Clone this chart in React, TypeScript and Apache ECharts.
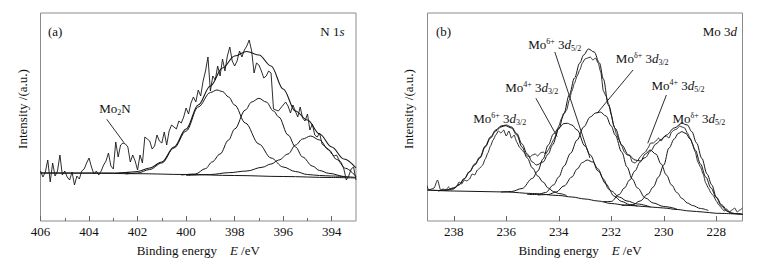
import React, { useEffect, useRef } from 'react';
import * as echarts from 'echarts';

const FONT = 'Liberation Serif, serif';
const INK = '#161616';
const FRAME = '#8c8c8c';

// ---------- (a) N 1s : [binding energy eV, intensity a.u.] ----------
const n1sRaw: [number, number][] = [
  [406.0, 50], [405.9, 44], [405.8, 49], [405.7, 61], [405.6, 39], [405.5, 58], [405.4, 45], [405.3, 50],
  [405.2, 66], [405.1, 46], [405.0, 50], [404.9, 44], [404.8, 41], [404.7, 49], [404.6, 36], [404.5, 45],
  [404.4, 42], [404.3, 50], [404.2, 52], [404.1, 58], [404.0, 63], [403.9, 54], [403.8, 47], [403.7, 50],
  [403.6, 46], [403.5, 50], [403.4, 56], [403.3, 60], [403.2, 68], [403.1, 55], [403.0, 52], [402.9, 79],
  [402.8, 64], [402.7, 76], [402.6, 78], [402.5, 77], [402.4, 74], [402.3, 59], [402.2, 66], [402.1, 60],
  [402.0, 51], [401.9, 66], [401.8, 58], [401.7, 84], [401.6, 82], [401.5, 80], [401.4, 72], [401.3, 75],
  [401.2, 86], [401.1, 80], [401.0, 78], [400.9, 89], [400.8, 76], [400.7, 90], [400.6, 96], [400.5, 94],
  [400.4, 92], [400.3, 100], [400.2, 98], [400.1, 104], [400.0, 113], [399.9, 107], [399.8, 118], [399.7, 124],
  [399.6, 119], [399.5, 131], [399.4, 125], [399.3, 140], [399.2, 150], [399.1, 164], [399.0, 130], [398.9, 145],
  [398.8, 141], [398.7, 155], [398.6, 145], [398.5, 162], [398.4, 150], [398.3, 165], [398.2, 174], [398.1, 160],
  [398.0, 155], [397.9, 160], [397.8, 170], [397.7, 164], [397.6, 171], [397.5, 175], [397.4, 181], [397.3, 170],
  [397.2, 148], [397.1, 158], [397.0, 156], [396.9, 150], [396.8, 143], [396.7, 145], [396.6, 150], [396.5, 148],
  [396.4, 112], [396.3, 111], [396.2, 110], [396.1, 113], [396.0, 116], [395.9, 119], [395.8, 115], [395.7, 108],
  [395.6, 116], [395.5, 110], [395.4, 104], [395.3, 114], [395.2, 103], [395.1, 100], [395.0, 107], [394.9, 91],
  [394.8, 97], [394.7, 86], [394.6, 84], [394.5, 88], [394.4, 77], [394.3, 75], [394.2, 73], [394.1, 71],
  [394.0, 67], [393.9, 65], [393.8, 66], [393.7, 61], [393.6, 58], [393.5, 52], [393.4, 41], [393.3, 45],
  [393.2, 52], [393.1, 54], [393.0, 41],
];
const n1sEnvelope: [number, number][] = [
  [406, 48], [404, 48], [403, 48], [402.5, 48.5], [402, 49.5], [401.5, 53], [401, 59], [400.5, 74],
  [400, 92], [399.5, 116], [399, 135], [398.5, 153], [398, 165], [397.5, 169.5], [397, 166], [396.5, 155],
  [396, 132], [395.5, 110], [395, 101], [394.5, 87], [394, 74], [393.5, 62], [393, 53],
];
const n1sPeak398: [number, number][] = [
  [402.5, 47], [402, 48], [401.5, 51.5], [401, 58], [400.5, 73], [400, 90], [399.5, 114], [399, 128.5],
  [398.73, 131], [398.5, 129.5], [398.25, 124], [398, 116], [397.56, 98], [397, 77], [396.5, 63], [396, 54],
  [395.5, 49.5], [395, 46.5], [394.5, 45.5], [394, 45], [393.5, 44.5],
];
const n1sPeak397: [number, number][] = [
  [400.2, 46], [399.62, 47], [399.2, 52.4], [398.93, 59], [398.6, 67], [398.25, 81], [398, 92], [397.56, 111],
  [397.3, 119], [397, 122.7], [396.7, 119], [396.4, 110], [396.18, 104], [395.8, 86], [395.49, 74], [395.2, 64],
  [394.8, 55], [394.5, 50.5], [394.12, 47.7], [393.43, 44.3], [393, 43.5],
];
const n1sPeak395: [number, number][] = [
  [400, 45.5], [399, 46.5], [398.25, 48.3], [397.5, 50], [396.87, 53.7], [396.5, 57], [396.18, 61], [395.8, 67],
  [395.49, 76], [395.2, 82], [394.87, 85], [394.5, 81], [394.12, 71], [393.8, 61.6], [393.43, 52.7], [393, 44.3],
];
const n1sBackground: [number, number][] = [
  [406, 48], [404, 47.8], [402, 47.3], [400, 46.5], [398, 45.5], [396, 44.5], [394, 43.5], [393, 43],
];
const n1sMajorTicks = [394, 396, 398, 400, 402, 404, 406];
const n1sMinorTicks = [395, 397, 399, 401, 403, 405];

// ---------- (b) Mo 3d ----------
const moRaw: [number, number][] = [
  [239.05, 37], [238.95, 31], [238.85, 32], [238.75, 33], [238.62, 41], [238.5, 31], [238.4, 32], [238.3, 31],
  [238.2, 34], [238.1, 31], [238.0, 32], [237.9, 34], [237.8, 39], [237.7, 37], [237.6, 41], [237.5, 40],
  [237.4, 42], [237.3, 47], [237.2, 46], [237.1, 51], [237.0, 53], [236.9, 56], [236.8, 62], [236.7, 68],
  [236.6, 75], [236.5, 81], [236.4, 86], [236.3, 90], [236.2, 88], [236.1, 91], [236.0, 85], [235.9, 90],
  [235.8, 83], [235.7, 86], [235.6, 79], [235.5, 74], [235.4, 71], [235.3, 68], [235.2, 65], [235.1, 64],
  [235.0, 66], [234.9, 67], [234.8, 65], [234.7, 68], [234.6, 69], [234.5, 67], [234.4, 71], [234.3, 76],
  [234.2, 81], [234.1, 86], [234.0, 95], [233.9, 102], [233.8, 107], [233.7, 111], [233.6, 121], [233.5, 130],
  [233.4, 138], [233.3, 145], [233.2, 151], [233.1, 158], [233.0, 162], [232.9, 163], [232.8, 164], [232.7, 161],
  [232.6, 163], [232.5, 158], [232.4, 149], [232.3, 130], [232.2, 125], [232.1, 117], [232.0, 106], [231.9, 95],
  [231.8, 87], [231.7, 81], [231.6, 75], [231.5, 69], [231.4, 66], [231.3, 66], [231.2, 59], [231.1, 58],
  [231.0, 60], [230.9, 64], [230.8, 67], [230.7, 69], [230.6, 73], [230.5, 78], [230.4, 78], [230.3, 80],
  [230.2, 83], [230.1, 80], [230.0, 84], [229.9, 85], [229.8, 83], [229.7, 89], [229.6, 91], [229.5, 92],
  [229.4, 95], [229.3, 94], [229.2, 93], [229.1, 88], [229.0, 83], [228.9, 77], [228.8, 69], [228.7, 59],
  [228.6, 54], [228.5, 47], [228.4, 38], [228.3, 33], [228.2, 28], [228.1, 25], [228.0, 20], [227.9, 16],
  [227.8, 13], [227.7, 10], [227.6, 12], [227.5, 9], [227.4, 11], [227.3, 13], [227.2, 9], [227.1, 11],
  [227.0, 13],
];
const moEnvelope: [number, number][] = [
  [239, 31], [238.5, 30.5], [238.2, 31], [238, 33], [237.8, 36.5], [237.6, 42.5], [237.4, 49.5], [237.2, 57],
  [237, 64], [236.8, 75], [236.6, 84], [236.4, 91], [236.2, 95], [236, 96], [235.8, 94], [235.6, 87.5],
  [235.4, 77], [235.2, 67], [235, 59], [234.85, 56], [234.6, 59], [234.4, 67], [234.24, 76], [234, 92],
  [233.8, 108], [233.6, 126], [233.4, 143], [233.2, 158], [233.05, 166], [232.87, 172], [232.65, 169], [232.45, 158],
  [232.3, 142], [232.11, 116], [231.85, 92.7], [231.6, 76], [231.34, 66], [231.09, 61], [230.9, 60], [230.7, 63.5],
  [230.5, 70], [230.3, 77], [230.1, 81.5], [229.9, 86], [229.6, 93], [229.31, 97.7], [229.1, 96], [228.93, 89.3],
  [228.75, 78], [228.55, 62.7], [228.35, 47], [228.17, 36], [228, 24], [227.79, 16], [227.54, 9.3], [227.3, 7.5],
  [227, 6.7],
];
const moPeak6Plus32: [number, number][] = [
  [238.6, 30], [238.3, 31], [238, 33], [237.8, 36], [237.6, 42], [237.4, 49], [237.2, 56], [237, 63],
  [236.8, 74], [236.6, 83], [236.4, 90], [236.2, 94], [236.04, 95.3], [235.8, 93], [235.6, 86], [235.4, 74],
  [235.2, 63], [235, 53], [234.8, 45], [234.6, 39], [234.4, 33], [234.2, 29.5], [234, 27.5], [233.7, 25.5],
];
const moPeak4Plus32: [number, number][] = [
  [236.2, 29], [235.8, 29.5], [235.4, 32.5], [235, 42.7], [234.8, 50], [234.6, 62], [234.4, 76], [234.2, 87],
  [234, 93], [233.8, 97.5], [233.67, 97.7], [233.5, 96], [233.3, 91], [233, 75], [232.8, 66], [232.5, 50],
  [232.2, 37], [232, 30], [231.7, 24], [231.4, 20], [231, 17], [230.5, 14],
];
const moPeak6Plus52: [number, number][] = [
  [234.8, 26], [234.4, 26.5], [234.1, 29], [233.8, 35], [233.5, 44], [233.3, 52], [233.1, 58.5], [232.92, 61],
  [232.7, 59], [232.5, 52], [232.3, 42], [232.1, 32], [231.9, 25], [231.6, 19.5], [231.3, 16.5], [231, 15],
];
const moPeakDelta32: [number, number][] = [
  [235.2, 26.5], [234.8, 26.5], [234.5, 28.5], [234.2, 36], [234, 44], [233.8, 55], [233.55, 67.7], [233.3, 81],
  [233.05, 94], [232.8, 104], [232.6, 108], [232.42, 109], [232.2, 105], [232, 95], [231.85, 86], [231.6, 69],
  [231.4, 54], [231.2, 42], [231, 33], [230.7, 23], [230.4, 18], [230, 14.5], [229.5, 12],
];
const moPeak4Plus52: [number, number][] = [
  [232.3, 19.5], [232, 19.5], [231.7, 26.5], [231.5, 33], [231.3, 41], [231.1, 50], [230.9, 59], [230.7, 67],
  [230.52, 71], [230.3, 67], [230.1, 57], [229.9, 46], [229.7, 36], [229.5, 28.5], [229.3, 22.5], [229.1, 18],
  [228.9, 15.5], [228.6, 12.5], [228.3, 10.5],
];
const moPeakDelta52: [number, number][] = [
  [231.6, 15.5], [231.2, 16], [230.9, 20], [230.6, 27], [230.4, 34], [230.2, 44], [230, 56], [229.8, 73],
  [229.6, 82], [229.45, 87.5], [229.31, 89.3], [229.15, 87.5], [229, 82], [228.8, 71], [228.6, 57], [228.4, 44],
  [228.2, 33], [228, 23.5], [227.8, 15], [227.6, 10], [227.4, 7.5], [227, 6.7],
];
const moBackground: [number, number][] = [
  [239, 31], [238, 30], [237, 29.5], [236, 29], [235, 27.5], [234, 25.5], [233.5, 24], [233, 22],
  [232.5, 20], [232, 17.5], [231.5, 16], [231, 15], [230.5, 14], [230, 13], [229.5, 11.5], [229, 10],
  [228.5, 9], [228, 7.7], [227, 6.7],
];
const moTicks = [228, 230, 232, 234, 236, 238];

// ---------- annotations ----------
const n1sLabels = [{ text: '{m|Mo}{sub|2}{m|N}', at: [402.93, 113] }];
const n1sArrows = [{ from: [403.27, 101.7], to: [402.56, 78.3] }];
const moLabels = [
  { text: '{m|Mo}{sup|6+}{m| 3}{i|d}{sub|5/2}', at: [234.15, 177] },
  { text: '{m|Mo}{sup|4+}{m| 3}{i|d}{sub|3/2}', at: [235.03, 134] },
  { text: '{m|Mo}{sup|6+}{m| 3}{i|d}{sub|3/2}', at: [236.25, 103] },
  { text: '{m|Mo}{sup|δ+}{m| 3}{i|d}{sub|3/2}', at: [230.82, 163] },
  { text: '{m|Mo}{sup|4+}{m| 3}{i|d}{sub|5/2}', at: [229.46, 136] },
  { text: '{m|Mo}{sup|δ+}{m| 3}{i|d}{sub|5/2}', at: [228.66, 103] },
];
const moArrows = [
  { from: [232.81, 63], to: [234.15, 169] },
  { from: [234.06, 84.3], to: [234.87, 122.7] },
  { from: [232.54, 107.7], to: [231.17, 151] },
  { from: [230.61, 77.7], to: [229.9, 126] },
];

const rich = {
  m: { fontFamily: FONT, fontSize: 13, color: '#111', lineHeight: 20 },
  i: { fontFamily: FONT, fontSize: 13, fontStyle: 'italic', color: '#111', lineHeight: 20 },
  sup: { fontFamily: FONT, fontSize: 8, color: '#111', padding: [0, 0, 6, 0] },
  sub: { fontFamily: FONT, fontSize: 8, color: '#111', padding: [9, 0, 0, 0] },
};

function curve(data: [number, number][], axis: number, extra: any = {}) {
  return {
    type: 'line',
    data,
    xAxisIndex: axis === 0 ? 0 : 2,
    yAxisIndex: axis,
    symbol: 'none',
    showSymbol: false,
    silent: true,
    smooth: 0.35,
    smoothMonotone: 'x',
    lineStyle: { color: INK, width: 1 },
    z: 3,
    ...extra,
  };
}

function annotations(labels: any[], arrows: any[]) {
  return {
    markLine: {
      silent: true,
      symbol: ['none', 'arrow'],
      symbolSize: [0, 7],
      label: { show: false },
      lineStyle: { color: INK, width: 0.9, type: 'solid' },
      emphasis: { disabled: true },
      data: arrows.map((a) => [{ coord: a.from }, { coord: a.to }]),
    },
    markPoint: {
      silent: true,
      symbol: 'circle',
      symbolSize: 1,
      itemStyle: { color: 'rgba(0,0,0,0)' },
      label: { show: true, position: 'inside', rich },
      data: labels.map((l) => ({ coord: l.at, label: { formatter: l.text } })),
    },
  };
}

function xAxisBase(grid: number, min: number, max: number) {
  return {
    type: 'value',
    gridIndex: grid,
    min,
    max,
    inverse: true,
    position: 'bottom',
    axisLine: { show: false },
    splitLine: { show: false },
  };
}

const xName = '{a|Binding energy    }{i|E}{a| /eV}';
const xNameRich = {
  a: { fontFamily: FONT, fontSize: 13, color: '#111' },
  i: { fontFamily: FONT, fontSize: 13, fontStyle: 'italic', color: '#111' },
};

function yAxisBase(grid: number) {
  return {
    type: 'value',
    gridIndex: grid,
    min: 0,
    max: 208,
    axisLine: { show: false },
    axisTick: { show: false },
    axisLabel: { show: false },
    splitLine: { show: false },
    name: 'Intensity /(a.u.)',
    nameLocation: 'middle',
    nameRotate: 90,
    nameGap: grid === 0 ? 12 : 13,
    nameTextStyle: { fontFamily: FONT, fontSize: 13, color: '#111', padding: [0, 0, 0, 16] },
  };
}

const titleStyle = { fontFamily: FONT, fontSize: 13, fontWeight: 'normal', color: '#111' };
const titleRich = {
  m: { fontFamily: FONT, fontSize: 13, fontWeight: 'normal', color: '#111' },
  i: { fontFamily: FONT, fontSize: 13, fontWeight: 'normal', fontStyle: 'italic', color: '#111' },
};

const option: any = {
  animation: false,
  backgroundColor: '#fff',
  textStyle: { fontFamily: FONT },
  title: [
    { text: '(a)', left: 48, top: 25, padding: 0, textStyle: titleStyle },
    { text: '{m|N 1}{i|s}', right: 429.5, top: 25, padding: 0, textStyle: { ...titleStyle, rich: titleRich } },
    { text: '(b)', left: 436, top: 25, padding: 0, textStyle: titleStyle },
    { text: '{m|Mo 3}{i|d}', right: 37, top: 25, padding: 0, textStyle: { ...titleStyle, rich: titleRich } },
  ],
  grid: [
    { left: 40.5, top: 13, width: 315.5, height: 208, show: true, borderColor: FRAME, borderWidth: 1, backgroundColor: 'transparent' },
    { left: 427.5, top: 13, width: 315, height: 208, show: true, borderColor: FRAME, borderWidth: 1, backgroundColor: 'transparent' },
  ],
  xAxis: [
    {
      ...xAxisBase(0, 393, 406),
      axisTick: { show: true, inside: true, length: 5, customValues: n1sMajorTicks, lineStyle: { color: '#666' } },
      axisLabel: { show: true, customValues: n1sMajorTicks, fontFamily: FONT, fontSize: 13, color: '#111', margin: 4 },
      name: xName,
      nameLocation: 'middle',
      nameGap: 23,
      nameTextStyle: { fontFamily: FONT, fontSize: 13, rich: xNameRich },
    },
    {
      ...xAxisBase(0, 393, 406),
      axisTick: { show: true, inside: true, length: 3, customValues: n1sMinorTicks, lineStyle: { color: '#666' } },
      axisLabel: { show: false },
    },
    {
      ...xAxisBase(1, 227, 239),
      axisTick: { show: true, inside: true, length: 5, customValues: moTicks, lineStyle: { color: '#666' } },
      axisLabel: { show: true, customValues: moTicks, fontFamily: FONT, fontSize: 13, color: '#111', margin: 4 },
      name: xName,
      nameLocation: 'middle',
      nameGap: 23,
      nameTextStyle: { fontFamily: FONT, fontSize: 13, rich: xNameRich, padding: [0, 10, 0, 0] },
    },
  ],
  yAxis: [yAxisBase(0), yAxisBase(1)],
  series: [
    curve(n1sRaw, 0, { smooth: false, lineStyle: { color: INK, width: 0.9 }, z: 2 }),
    curve(n1sBackground, 0),
    curve(n1sPeak398, 0),
    curve(n1sPeak397, 0),
    curve(n1sPeak395, 0),
    curve(n1sEnvelope, 0, { lineStyle: { color: INK, width: 1.1 }, ...annotations(n1sLabels, n1sArrows) }),
    curve(moRaw, 1, { smooth: 0.2, lineStyle: { color: INK, width: 0.9 }, z: 2 }),
    curve(moBackground, 1),
    curve(moPeak6Plus32, 1),
    curve(moPeak4Plus32, 1),
    curve(moPeak6Plus52, 1),
    curve(moPeakDelta32, 1),
    curve(moPeak4Plus52, 1),
    curve(moPeakDelta52, 1),
    curve(moEnvelope, 1, annotations(moLabels, moArrows)),
  ],
};

export default function App() {
  const ref = useRef<HTMLDivElement>(null);
  useEffect(() => {
    const chart = echarts.init(ref.current!, null, { renderer: 'svg' });
    chart.setOption(option);
    return () => chart.dispose();
  }, []);
  return (
    <div
      ref={ref}
      style={{ position: 'fixed', left: 0, top: 0, width: 774, height: 263, background: '#fff' }}
    />
  );
}
